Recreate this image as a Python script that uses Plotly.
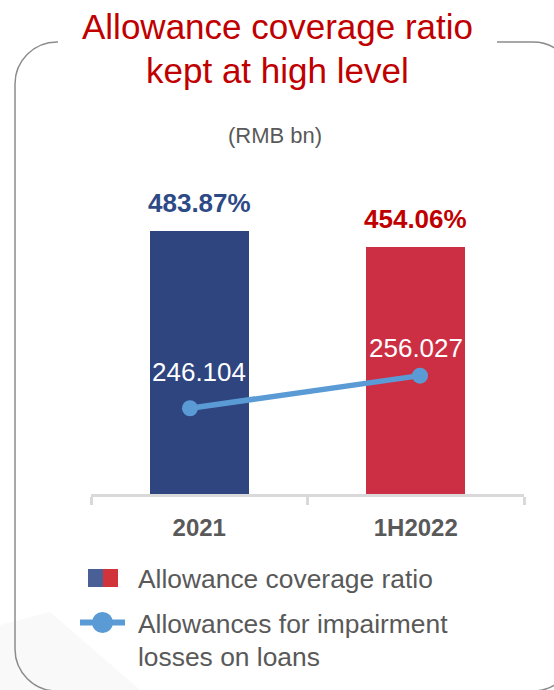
import plotly.graph_objects as go

# Data
periods = ["2021", "1H2022"]
coverage_ratio = [483.87, 454.06]          # %
allowances = [246.104, 256.027]            # RMB bn
bar_colors = ["#2E4580", "#CC2F44"]
bar_label_colors = ["#2E4A86", "#C00000"]

W, H = 554, 690
FONT = "Liberation Sans, Arial, sans-serif"
GREY_TXT = "#595959"
LINE_BLUE = "#5B9BD5"


def px(x):
    return x / W


def py(y):
    return 1 - y / H


fig = go.Figure()

fig.add_trace(go.Bar(
    x=periods, y=coverage_ratio, marker=dict(color=bar_colors, line=dict(width=0)),
    width=0.458, xaxis="x", yaxis="y", showlegend=False, hoverinfo="skip",
))

fig.add_trace(go.Scatter(
    x=periods, y=allowances, mode="lines+markers",
    line=dict(color=LINE_BLUE, width=5.5), marker=dict(size=16, color=LINE_BLUE),
    xaxis="x2", yaxis="y2", showlegend=False, hoverinfo="skip",
))

annotations = []

# Value labels above the bars (x given as category index)
for i, (v, c) in enumerate(zip(coverage_ratio, bar_label_colors)):
    annotations.append(dict(
        x=i, y=v, xref="x", yref="y", text=f"{v:.2f}%", showarrow=False,
        yanchor="middle", yshift=28,
        font=dict(family=FONT, size=26, color=c, weight="bold"),
    ))

# Value labels for the allowance line
for i, (v, s) in enumerate(zip(allowances, [36, 28])):
    annotations.append(dict(
        x=i, y=v, xref="x", yref="y2", text=f"{v:.3f}", showarrow=False,
        yanchor="middle", yshift=s,
        font=dict(family=FONT, size=26, color="white"),
    ))

# Title and unit
annotations += [
    dict(x=0.5, y=py(27), xref="paper", yref="paper", text="Allowance coverage ratio",
         showarrow=False, yanchor="middle", font=dict(family=FONT, size=35, color="#C00000")),
    dict(x=0.5, y=py(70), xref="paper", yref="paper", text="kept at high level",
         showarrow=False, yanchor="middle", font=dict(family=FONT, size=35, color="#C00000")),
    dict(x=px(275), y=py(135), xref="paper", yref="paper", text="(RMB bn)",
         showarrow=False, yanchor="middle", font=dict(family=FONT, size=22, color=GREY_TXT)),
]

# Legend text
legend_font = dict(family=FONT, size=26.4, color=GREY_TXT)
for txt, yy in [("Allowance coverage ratio", 579),
                ("Allowances for impairment", 624),
                ("losses on loans", 657)]:
    annotations.append(dict(x=px(136), y=py(yy), xref="paper", yref="paper", text=txt,
                            showarrow=False, xanchor="left", yanchor="middle", font=legend_font))

# Rounded frame with a gap for the title
x0, x1, y0, y1, r = 15, 575, 42, 691, 42
k = 0.5523 * r


def P(x, y):
    return f"{px(x):.5f},{py(y):.5f}"


frame = (
    f"M {P(58, y0)} L {P(x0 + r, y0)} "
    f"C {P(x0 + r - k, y0)} {P(x0, y0 + r - k)} {P(x0, y0 + r)} "
    f"L {P(x0, y1 - r)} "
    f"C {P(x0, y1 - r + k)} {P(x0 + r - k, y1)} {P(x0 + r, y1)} "
    f"L {P(x1 - r, y1)} "
    f"C {P(x1 - r + k, y1)} {P(x1, y1 - r + k)} {P(x1, y1 - r)} "
    f"L {P(x1, y0 + r)} "
    f"C {P(x1, y0 + r - k)} {P(x1 - r + k, y0)} {P(x1 - r, y0)} "
    f"L {P(497, y0)}"
)

shapes = [
    # faint shading at the lower left
    dict(type="path", xref="paper", yref="paper", layer="below",
         path=f"M {P(0, 625)} L {P(50, 612)} L {P(140, 690)} L {P(0, 690)} Z",
         fillcolor="#F9F9F9", line=dict(width=0)),
    dict(type="path", xref="paper", yref="paper", path=frame,
         line=dict(color="#8C8C8C", width=1.5)),
    # legend icons
    dict(type="rect", xref="paper", yref="paper", x0=px(88), x1=px(103), y0=py(587), y1=py(569),
         fillcolor="#4B5F97", line=dict(width=0)),
    dict(type="rect", xref="paper", yref="paper", x0=px(103), x1=px(118), y0=py(587), y1=py(569),
         fillcolor="#D0343A", line=dict(width=0)),
    dict(type="line", xref="paper", yref="paper", x0=px(80), x1=px(125), y0=py(622.5), y1=py(622.5),
         line=dict(color=LINE_BLUE, width=6)),
    dict(type="circle", xref="paper", yref="paper", x0=px(92), x1=px(113), y0=py(633), y1=py(612),
         fillcolor=LINE_BLUE, line=dict(width=0)),
]

dom_x = [px(91), px(524)]
dom_y = [py(494), py(200)]

fig.update_layout(
    width=W, height=H, margin=dict(l=0, r=0, t=0, b=0),
    paper_bgcolor="white", plot_bgcolor="rgba(0,0,0,0)",
    xaxis=dict(domain=dom_x, type="category", range=[-0.5, 1.5], tickson="boundaries",
               showline=True, linecolor="#D9D9D9", linewidth=3,
               ticks="outside", ticklen=8, tickwidth=3, tickcolor="#D9D9D9",
               ticklabelstandoff=10,
               tickfont=dict(family=FONT, size=24, color=GREY_TXT, weight="bold"),
               showgrid=False, zeroline=False, fixedrange=True),
    yaxis=dict(domain=dom_y, range=[0, 540.7], visible=False, fixedrange=True),
    xaxis2=dict(domain=dom_x, type="category", overlaying="x", range=[-0.4304, 1.4522],
                visible=False, fixedrange=True),
    yaxis2=dict(domain=dom_y, overlaying="y", range=[220.0, 309.5], visible=False,
                fixedrange=True),
    annotations=annotations, shapes=shapes, bargap=0,
)

fig.write_html("out.html")
